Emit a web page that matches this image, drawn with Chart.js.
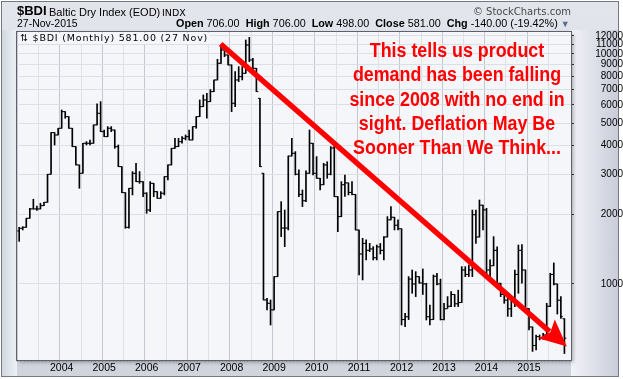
<!DOCTYPE html>
<html><head><meta charset="utf-8">
<script src="https://cdn.jsdelivr.net/npm/chart.js@4.4.1/dist/chart.umd.min.js"></script>
<style>
html,body{margin:0;padding:0;width:623px;height:379px;overflow:hidden;background:#fff;}
body{position:relative;font-family:"Liberation Sans",Arial,sans-serif;color:#000;}
#frame{position:absolute;left:1px;top:1px;width:618px;height:376px;box-sizing:border-box;border:1px solid #737882;background:linear-gradient(to bottom,#e2e5eb,#d0d4dd);}
#rstrip{position:absolute;left:571px;top:30px;width:47px;height:346px;background:linear-gradient(to right,#f2f3f9,#c9cdd9);}
#lstrip{position:absolute;left:2px;top:30px;width:15px;height:346px;background:linear-gradient(to right,#d3d8e1,#eef1f7);}
canvas{position:absolute;left:0;top:0;}
.t{position:absolute;white-space:nowrap;}
#sym{left:17px;top:4px;font-size:13px;line-height:13px;font-weight:bold;}
#name{left:49px;top:6.5px;font-size:11px;line-height:11px;}
#indx{left:162px;top:8px;font-size:9.5px;line-height:10px;font-family:"DejaVu Sans",sans-serif;}
#date{left:17px;top:18px;font-size:10.5px;line-height:10.5px;}
#ohlc{left:176px;top:17.8px;font-size:10.8px;line-height:10.8px;}
#ohlc b{font-weight:bold;}
#tri{color:#5b6b8c;font-size:9px;}
#copy{right:52px;top:5.5px;line-height:11px;color:#4a4a4a;font-family:"DejaVu Sans",sans-serif;font-size:10px;}
#plab{left:19px;top:33px;font-size:9.5px;line-height:9.5px;letter-spacing:0.8px;font-family:"DejaVu Sans",sans-serif;background:#f5f6fa;padding:0 2px 1px 1px;}
#note{left:457px;top:38px;width:0;}
#note div{position:absolute;left:0;transform:translateX(-50%) scaleX(0.915);white-space:nowrap;color:#ff0000;font-weight:bold;font-size:19.5px;line-height:24.3px;text-align:center;}
</style></head>
<body>
<div id="frame"></div>
<div id="lstrip"></div>
<div id="rstrip"></div>
<canvas id="c" width="623" height="379"></canvas>
<div class="t" id="sym">$BDI</div>
<div class="t" id="name">Baltic Dry Index (EOD)</div>
<div class="t" id="indx">INDX</div>
<div class="t" id="date">27-Nov-2015</div>
<div class="t" id="ohlc"><b>Open</b> 706.00 &nbsp;<b>High</b> 706.00 &nbsp;<b>Low</b> 498.00 &nbsp;<b>Close</b> 581.00 &nbsp;<b>Chg</b> -140.00 (-19.42%) <span id="tri">▼</span></div>
<div class="t" id="copy">© StockCharts.com</div>
<div class="t" id="plab">⇅ $BDI (Monthly) 581.00 (27 Nov)</div>
<div class="t" id="note">
<div style="top:0px">This tells us product</div>
<div style="top:24.3px">demand has been falling</div>
<div style="top:48.6px">since 2008 with no end in</div>
<div style="top:72.9px">sight. Deflation May Be</div>
<div style="top:97.2px">Sooner Than We Think...</div>
</div>
<script>
// Monthly bars, Jan 2003 .. Nov 2015 (one row per year)
const startYear = 2003;
const open = [
 1700,1746,1763,1930,2119,2119,2119,2190,2265,2998,4550,4444,
 4752,5614,5340,4752,3955,3292,3028,4089,4089,4089,4913,5521,
 4596,4370,4752,4672,3955,3237,2495,1763,2606,3028,2786,2786,
 2479,2097,2739,2520,2358,2479,2929,3292,3889,3955,4157,4298,
 4370,4227,4831,5340,5902,6310,6205,6858,7709,9108,10406,9900,
 8958,6104,7709,7970,8240,10941,9416,8662,6416,3028,852,824,
 771,1076,2063,1750,1750,3600,3700,3000,2450,2300,3028,4089,
 3028,2880,2700,3292,3000,3900,2397,1962,2700,2750,2500,2450,
 1717,1350,1500,1400,1420,1300,1450,1400,1600,1900,1950,1800,
 1738,700,720,1050,1000,1076,1010,1000,720,700,1080,1000,
 700,780,800,900,820,830,1150,1100,1150,2000,1600,2200,
 2100,1150,1200,1400,1007,900,850,780,870,1100,1400,1150,
 782,650,540,590,580,600,800,1100,1000,850,706
];
const high = [
 1763,1775,1930,2133,2335,2180,2243,2265,2998,4550,4550,4752,
 5708,5614,5340,4752,3955,3292,4089,4157,4227,4913,6063,6205,
 4672,4831,4831,4672,4021,3237,2495,2606,3079,3347,3079,2786,
 2495,2786,2739,2520,2520,2929,3292,3889,4298,4298,4370,4444,
 4672,4831,5340,6310,6633,6744,7000,7709,9479,10941,10832,9900,
 8958,8379,8810,8810,11503,11812,9575,8662,6416,3028,866,852,
 1076,2063,2280,2097,3600,4298,3761,3131,2563,3100,4672,4089,
 3578,2880,3347,3400,3955,4089,2397,2786,2978,2750,2786,2450,
 1717,1579,1554,1502,1453,1477,1500,1606,1962,2169,1950,1898,
 1738,746,1076,1150,1131,1076,1162,1007,810,1094,1113,1050,
 824,881,926,900,940,1189,1189,1209,2097,2097,2318,2200,
 2133,1272,1606,1450,1007,926,911,881,1150,1477,1484,1150,
 782,650,600,600,610,824,1113,1234,1000,881,706
];
const low = [
 1532,1717,1763,1930,2119,2090,2119,2190,2265,2998,4021,4444,
 4752,5253,4752,3955,3292,2606,3028,4021,4021,4089,4913,4596,
 4370,4370,4596,3889,3237,2495,1746,1746,2438,2786,2739,2397,
 2029,2063,2397,2358,2358,2438,2832,3292,3889,3955,4089,4227,
 4227,4227,4752,5340,5902,5253,6205,6858,7709,9108,9736,8958,
 5614,5902,7581,7709,8240,9261,8520,6858,3237,852,771,663,
 771,1076,1606,1453,1717,3600,2978,2397,2169,2280,3028,2978,
 2880,2563,2700,2880,2980,2397,1689,1962,2400,2438,2438,1717,
 1094,1041,1272,1382,1272,1272,1350,1272,1600,1900,1717,1717,
 663,652,700,911,881,1007,900,697,663,700,990,697,
 697,784,797,797,797,830,1076,1076,1076,1502,1600,1717,
 1100,1076,1200,1000,881,824,723,721,797,911,1007,771,
 631,509,516,571,575,590,797,990,740,709,498
];
const close = [
 1746,1763,1930,2119,2119,2119,2190,2265,2998,4550,4444,4752,
 5614,5340,4752,3955,3292,3028,4089,4089,4089,4913,5521,4596,
 4370,4752,4672,3955,3237,2495,1763,2606,3028,2786,2786,2479,
 2097,2739,2520,2358,2479,2929,3292,3889,3955,4157,4298,4370,
 4227,4831,5340,5902,6310,6205,6858,7709,9108,10406,9900,8958,
 6104,7709,7970,8240,10941,9416,8662,6858,3237,852,824,771,
 1076,2063,1750,1750,3600,3700,3000,2450,2300,3028,4089,3028,
 2880,2700,3292,3000,3900,2397,1962,2700,2750,2500,2450,1717,
 1350,1500,1400,1420,1300,1450,1400,1600,1900,1950,1800,1738,
 700,720,1050,1000,1076,1010,1000,720,700,1080,1000,700,
 780,800,900,820,830,1150,1100,1150,2000,1600,2200,2100,
 1150,1200,1400,1007,900,850,780,870,1100,1400,1150,782,
 650,540,590,580,600,800,1100,1000,850,721,581
];
const yTickValues = [1000,2000,3000,4000,5000,6000,7000,8000,9000,10000,11000,12000];
const yearLabels = ['2004','2005','2006','2007','2008','2009','2010','2011','2012','2013','2014','2015'];
// trend arrow anchors (month index since Jan 2003, index value)
const arrowFrom = {month: 56.9, value: 11055};
const arrowTo = {month: 154.7, value: 534};

const hl = open.map((o,i)=>({x:i, y:[low[i], high[i]]}));
const openPts = open.map((o,i)=>({x:i-0.28, y:o}));
const closePts = close.map((c,i)=>({x:i+0.28, y:c}));

const bgPlugin = {
  id:'bg',
  beforeDraw(chart){
    const {ctx, chartArea:a} = chart;
    ctx.save();
    ctx.shadowColor='rgba(0,0,0,0.35)'; ctx.shadowBlur=4; ctx.shadowOffsetX=2; ctx.shadowOffsetY=2;
    ctx.fillStyle='#f5f6fa';
    ctx.fillRect(a.left, a.top, a.right-a.left, a.bottom-a.top);
    ctx.restore();
  },
  afterDraw(chart){
    const {ctx, chartArea:a} = chart;
    ctx.save();
    ctx.strokeStyle='#5d616a'; ctx.lineWidth=1;
    ctx.strokeRect(Math.round(a.left)-0.5, Math.round(a.top)-0.5, Math.round(a.right-a.left)+1, Math.round(a.bottom-a.top)+1);
    ctx.restore();
  }
};
const arrowPlugin = {
  id:'arrow',
  afterDatasetsDraw(chart){
    const {ctx, scales:{x,y}} = chart;
    const x1=x.getPixelForValue(arrowFrom.month), y1=y.getPixelForValue(arrowFrom.value);
    const x2=x.getPixelForValue(arrowTo.month), y2=y.getPixelForValue(arrowTo.value);
    const ang=Math.atan2(y2-y1,x2-x1), c=Math.cos(ang), s=Math.sin(ang);
    const headLen=27, headHalf=12.5;
    const bx=x2-headLen*c, by=y2-headLen*s;
    ctx.save();
    ctx.strokeStyle='#ff0000'; ctx.fillStyle='#ff0000'; ctx.lineWidth=5.5; ctx.lineCap='butt';
    ctx.beginPath(); ctx.moveTo(x1,y1); ctx.lineTo(bx+4*c, by+4*s); ctx.stroke();
    ctx.beginPath(); ctx.moveTo(x2,y2);
    ctx.lineTo(bx-headHalf*s, by+headHalf*c);
    ctx.lineTo(bx+5*c, by+5*s);
    ctx.lineTo(bx+headHalf*s, by-headHalf*c);
    ctx.closePath(); ctx.fill();
    ctx.restore();
  }
};

new Chart(document.getElementById('c'), {
  type:'bar',
  data:{datasets:[
    {data:hl, backgroundColor:'#000', borderWidth:0, barThickness:1, grouped:false},
    {type:'line', data:openPts, showLine:false, pointStyle:'line', pointRadius:1, pointBorderWidth:1, pointBorderColor:'#000'},
    {type:'line', data:closePts, showLine:false, pointStyle:'line', pointRadius:1, pointBorderWidth:1, pointBorderColor:'#000'}
  ]},
  options:{
    responsive:false, animation:false, events:[], devicePixelRatio:1,
    layout:{padding:{left:17, top:32, right:0, bottom:0}},
    plugins:{legend:{display:false}, tooltip:{enabled:false}},
    scales:{
      x:{type:'linear', min:-0.62, max:155.86, bounds:'data', offset:false,
        afterBuildTicks(s){ const t=[]; for(let i=0;i<=155;i++) t.push({value:i}); s.ticks=t; },
        afterFit(s){ s.height=19; },
        grid:{display:true, drawOnChartArea:true, drawTicks:true, tickLength:2,
          color:(c)=> c.tick && c.tick.value%12===0 ? '#c4c7d0' : (c.tick && c.tick.value%6===0 ? '#dfe1e7' : 'rgba(0,0,0,0)'),
          tickColor:'#8d9098'},
        border:{display:false},
        ticks:{autoSkip:false, maxRotation:0, padding:0, color:'#000',
          font:{family:'"Liberation Sans", Arial, sans-serif', size:10.5},
          callback:(v)=> (v%12===0 && v>=12) ? yearLabels[v/12-1] : ''}
      },
      y:{type:'logarithmic', position:'right', min:467, max:12460, bounds:'data',
        afterBuildTicks(s){ s.ticks=yTickValues.map(v=>({value:v})); },
        afterFit(s){ s.width=52; },
        grid:{color:'#dcdfe6', tickColor:'#333', tickLength:3, drawTicks:true},
        border:{display:false},
        ticks:{crossAlign:'far', padding:1, color:'#000', autoSkip:false,
          font:{family:'"Liberation Sans", Arial, sans-serif', size:10},
          callback:(v)=> String(v)}
      }
    }
  },
  plugins:[bgPlugin, arrowPlugin]
});
</script>
</body></html>
